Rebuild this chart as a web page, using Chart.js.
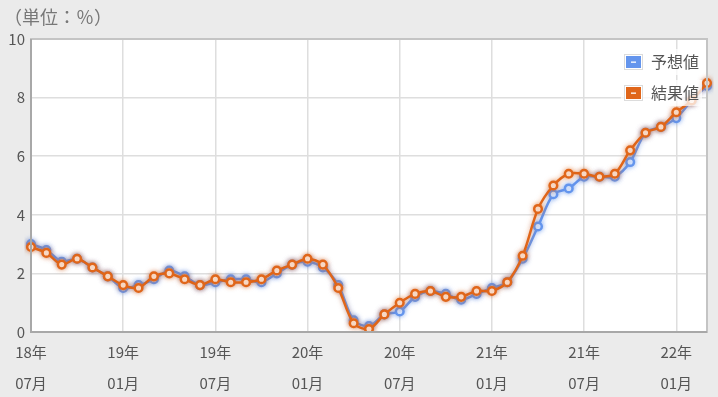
<!DOCTYPE html>
<html><head><meta charset="utf-8">
<script src="https://cdn.jsdelivr.net/npm/chart.js@4"></script>
<style>
html,body{margin:0;padding:0;background:#ebebeb;}
#wrap{width:718px;height:397px;position:relative;}
</style></head>
<body><div id="wrap"><canvas id="c" width="718" height="397"></canvas></div>
<script>
const months = [
 '18年07月','18年08月','18年09月','18年10月','18年11月','18年12月',
 '19年01月','19年02月','19年03月','19年04月','19年05月','19年06月',
 '19年07月','19年08月','19年09月','19年10月','19年11月','19年12月',
 '20年01月','20年02月','20年03月','20年04月','20年05月','20年06月',
 '20年07月','20年08月','20年09月','20年10月','20年11月','20年12月',
 '21年01月','21年02月','21年03月','21年04月','21年05月','21年06月',
 '21年07月','21年08月','21年09月','21年10月','21年11月','21年12月',
 '22年01月','22年02月','22年03月'];
const forecast = [3.0,2.8,2.4,2.5,2.2,1.9, 1.5,1.6,1.8,2.1,1.9,1.6, 1.7,1.8,1.8,1.7,2.0,2.3,
 2.4,2.2,1.6,0.4,0.2,0.6, 0.7,1.2,1.4,1.3,1.1,1.3, 1.5,1.7,2.5,3.6,4.7,4.9, 5.3,5.3,5.3,5.8,6.8,7.0, 7.3,7.9,8.4];
const actual = [2.9,2.7,2.3,2.5,2.2,1.9, 1.6,1.5,1.9,2.0,1.8,1.6, 1.8,1.7,1.7,1.8,2.1,2.3,
 2.5,2.3,1.5,0.3,0.1,0.6, 1.0,1.3,1.4,1.2,1.2,1.4, 1.4,1.7,2.6,4.2,5.0,5.4, 5.4,5.3,5.4,6.2,6.8,7.0, 7.5,7.9,8.5];
const seriesNames = ['予想値','結果値'];
const unitLabel = '（単位：％）';
const yTicks = [0,2,4,6,8,10];

const FONT = '"Noto Sans CJK JP", "Noto Sans", sans-serif';
const BLUE = '#6495ed';
const ORANGE = '#e0661a';

const bgPlugin = {
  id:'bg',
  beforeDraw(chart){
    const {ctx, chartArea:a} = chart;
    ctx.save();
    ctx.fillStyle='#ebebeb'; ctx.fillRect(0,0,chart.width,chart.height);
    ctx.fillStyle='#ffffff'; ctx.fillRect(a.left,a.top,a.right-a.left,a.bottom-a.top);
    ctx.font='18px '+FONT; ctx.fillStyle='#777'; ctx.textBaseline='middle'; ctx.textAlign='left';
    ctx.fillText(unitLabel, 4, 17);
    ctx.restore();
  },
  afterDraw(chart){
    const {ctx, chartArea:a} = chart;
    ctx.save();
    ctx.strokeStyle='#c4c4c4'; ctx.lineWidth=2;
    ctx.strokeRect(a.left,a.top,a.right-a.left,a.bottom-a.top);
    ctx.strokeStyle='#a8a8a8'; ctx.lineWidth=2;
    ctx.beginPath(); ctx.moveTo(a.left,a.top); ctx.lineTo(a.left,a.bottom); ctx.lineTo(a.right,a.bottom); ctx.stroke();
    // legend
    const items=[{t:seriesNames[0],c:BLUE,y:62},{t:seriesNames[1],c:ORANGE,y:93}];
    ctx.font='16px '+FONT; ctx.textBaseline='middle'; ctx.textAlign='left';
    items.forEach(it=>{
      const tw=ctx.measureText(it.t).width;
      ctx.fillStyle='rgba(255,255,255,0.75)';
      ctx.fillRect(621,it.y-13,650-621+tw+4,26);
      ctx.fillStyle='#fff'; ctx.fillRect(624,it.y-8,19,16);
      ctx.strokeStyle='#dcdcdc'; ctx.lineWidth=1; ctx.strokeRect(624.5,it.y-7.5,18,15);
      ctx.fillStyle=it.c; ctx.fillRect(626,it.y-6,15,12);
      ctx.fillStyle='#fff'; ctx.fillRect(631,it.y-0.5,5,1.3);
      ctx.fillStyle='#555'; ctx.fillText(it.t,651,it.y);
    });
    ctx.restore();
  },
  beforeDatasetDraw(chart,args){
    const ctx=chart.ctx; ctx.save();
    ctx.shadowColor = args.index===0 ? 'rgba(100,149,237,0.65)' : 'rgba(224,102,26,0.55)';
    ctx.shadowBlur=5;
  },
  afterDatasetDraw(chart){ chart.ctx.restore(); }
};

new Chart(document.getElementById('c'),{
  type:'line',
  data:{labels:months, datasets:[
    {label:seriesNames[0],data:forecast,borderColor:BLUE,backgroundColor:'#fff',borderWidth:2.5,
     pointRadius:3.8,pointBorderWidth:2.5,pointBackgroundColor:'#fff',pointBorderColor:BLUE,tension:0.3,order:2},
    {label:seriesNames[1],data:actual,borderColor:ORANGE,backgroundColor:'#fff',borderWidth:2.5,
     pointRadius:3.8,pointBorderWidth:2.5,pointBackgroundColor:'#fff',pointBorderColor:ORANGE,tension:0.3,order:1}
  ]},
  options:{
    responsive:false, animation:false, devicePixelRatio:1,
    layout:{padding:{top:39,right:11,left:0,bottom:0}},
    plugins:{legend:{display:false},tooltip:{enabled:false}},
    scales:{
      x:{
        offset:false,
        afterFit(s){s.height=65;},
        grid:{drawTicks:false, lineWidth:1.5, color:c=>(c.index%6===0?'#dedede':'rgba(0,0,0,0)')},
        border:{display:false},
        ticks:{autoSkip:false,maxRotation:0,minRotation:0,padding:5,color:'#555',
          font:{family:FONT,size:15,lineHeight:2.05},
          callback:(v,i)=> i%6===0 ? [months[i].slice(0,3), months[i].slice(3)] : ''}
      },
      y:{
        min:0,max:10,
        afterFit(s){s.width=31;},
        afterBuildTicks(s){s.ticks=yTicks.map(v=>({value:v}));},
        grid:{drawTicks:false,lineWidth:1.5,color:'#dedede'},
        border:{display:false},
        ticks:{padding:6,color:'#555',font:{family:FONT,size:15}}
      }
    }
  },
  plugins:[bgPlugin]
});
</script></body></html>
